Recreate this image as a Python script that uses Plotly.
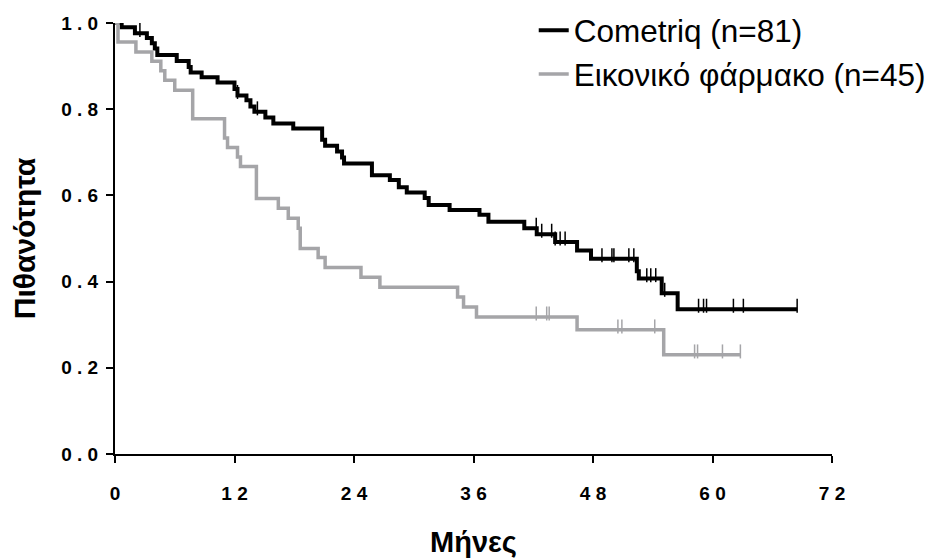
import plotly.graph_objects as go

# ---------------- data ----------------
x_tick_vals = [0, 12, 24, 36, 48, 60, 72]
x_tick_text = ["0", "1 2", "2 4", "3 6", "4 8", "6 0", "7 2"]
y_tick_vals = [0.0, 0.2, 0.4, 0.6, 0.8, 1.0]
y_tick_text = ["0 . 0", "0 . 2", "0 . 4", "0 . 6", "0 . 8", "1 . 0"]

cometriq_name = "Cometriq (n=81)"
cometriq_event_times = [0.67, 2.0, 3.2, 3.7, 4.0, 4.25, 6.2, 7.4, 7.6, 8.7, 10.3,
                        12.0, 12.3, 13.2, 13.6, 14.0, 15.1, 15.9, 17.9, 20.8, 21.1,
                        22.3, 22.8, 23.0, 25.8, 27.6, 28.5, 29.3, 31.1, 31.5, 33.6,
                        36.6, 37.5, 41.1, 42.35, 44.2, 46.4, 47.8, 52.4, 52.6, 54.9,
                        56.5]
cometriq_survival = [0.990, 0.976, 0.965, 0.953, 0.941, 0.926, 0.912, 0.898, 0.885,
                     0.874, 0.862, 0.847, 0.832, 0.821, 0.806, 0.794, 0.781, 0.767,
                     0.755, 0.729, 0.715, 0.702, 0.688, 0.674, 0.647, 0.636, 0.619,
                     0.607, 0.594, 0.578, 0.566, 0.555, 0.539, 0.524, 0.510, 0.492,
                     0.472, 0.453, 0.424, 0.407, 0.373, 0.336]
cometriq_censor_times = [2.5, 12.3, 14.3, 42.3, 42.85, 43.85, 44.2, 44.7, 45.2, 48.9,
                         49.9, 50.1, 51.6, 52.1, 53.4, 53.8, 54.3, 55.2, 58.6, 59.1,
                         59.4, 62.1, 63.1, 68.5]
cometriq_end = 68.5

placebo_name = "Εικονικό φάρμακο (n=45)"
placebo_event_times = [0.3, 2.1, 3.7, 4.6, 5.0, 6.0, 7.8, 11.0, 11.3, 12.3, 12.6,
                       14.2, 16.4, 17.4, 18.4, 18.6, 20.4, 21.1, 24.7, 26.6, 34.4,
                       35.0, 36.3, 46.4, 55.1]
placebo_survival = [0.956, 0.933, 0.911, 0.889, 0.867, 0.844, 0.778, 0.733, 0.711,
                    0.689, 0.667, 0.593, 0.570, 0.547, 0.524, 0.477, 0.456, 0.433,
                    0.410, 0.387, 0.364, 0.341, 0.318, 0.288, 0.230]
placebo_censor_times = [42.3, 43.35, 43.6, 50.5, 50.9, 54.2, 58.2, 58.5, 61.0, 62.8]
placebo_end = 62.8

x_title = "Μήνες"
y_title = "Πιθανότητα"

# ---------------- helpers ----------------
def step_xy(times, surv, end):
    xs = [0.0] + list(times) + [end]
    ys = [1.0] + list(surv) + [surv[-1]]
    return xs, ys

def surv_at(t, times, surv):
    s = 1.0
    for ti, si in zip(times, surv):
        if ti <= t:
            s = si
    return s

BOLD_FONT = "Liberation Sans Narrow, Arial Narrow, Liberation Sans, Arial, sans-serif"
REG_FONT = "Liberation Sans, Arial, sans-serif"

fig = go.Figure()

groups = [
    (cometriq_name, cometriq_event_times, cometriq_survival, cometriq_censor_times,
     cometriq_end, "#000000", 4.0),
    (placebo_name, placebo_event_times, placebo_survival, placebo_censor_times,
     placebo_end, "#A5A5A8", 3.5),
]

for name, times, surv, cens, end, color, width in groups:
    xs, ys = step_xy(times, surv, end)
    fig.add_trace(go.Scatter(
        x=xs, y=ys, mode="lines", name=name,
        line=dict(color=color, width=width, shape="hv"),
        cliponaxis=False, hoverinfo="skip",
    ))
    cy = [surv_at(t, times, surv) + 0.008 for t in cens]
    fig.add_trace(go.Scatter(
        x=cens, y=cy, mode="markers", showlegend=False,
        marker=dict(symbol="line-ns", size=10, line=dict(color=color, width=1.5)),
        cliponaxis=False, hoverinfo="skip",
    ))

axis_common = dict(
    showline=True, linecolor="black", linewidth=2,
    ticks="outside", ticklen=7, tickwidth=2, tickcolor="black",
    showgrid=False, zeroline=False, automargin=False,
    tickfont=dict(family=BOLD_FONT, size=19, color="black", weight="bold"),
)

fig.update_layout(
    width=925, height=550,
    margin=dict(l=107, r=101, t=15, b=104, autoexpand=False),
    paper_bgcolor="white", plot_bgcolor="white",
    xaxis=dict(range=[0, 72], tickvals=x_tick_vals, ticktext=x_tick_text,
               ticklabelstandoff=14,
               title=dict(text=x_title, standoff=33,
                          font=dict(family=BOLD_FONT, size=29, color="black", weight="bold")),
               **axis_common),
    yaxis=dict(range=[0, 1], tickvals=y_tick_vals, ticktext=y_tick_text,
               ticklabelstandoff=4,
               title=dict(text=y_title, standoff=24,
                          font=dict(family=BOLD_FONT, size=30, color="black", weight="bold")),
               **axis_common),
    legend=dict(x=0.584, y=1.046, xanchor="left", yanchor="top",
                bgcolor="rgba(0,0,0,0)", tracegroupgap=0,
                font=dict(family=REG_FONT, size=31.5, color="black")),
    showlegend=True,
)

fig.write_html("out.html")
